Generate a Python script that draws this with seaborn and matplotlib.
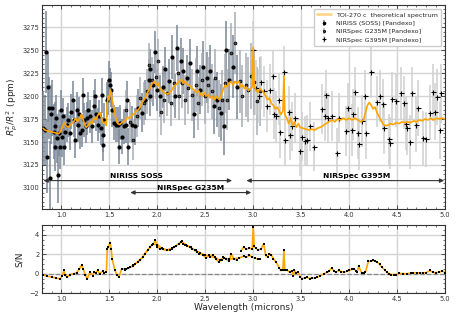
import numpy as np
import pandas as pd
import matplotlib
matplotlib.use("Agg")
import matplotlib.pyplot as plt
from matplotlib.ticker import MultipleLocator
import seaborn as sns

# ---------------- data ----------------
model_wl = [0.81,0.83,0.86,0.90,0.94,0.97,0.99,1.01,1.03,1.05,1.07,1.09,1.11,1.13,1.15,1.17,1.19,1.21,1.22,1.24,
            1.26,1.28,1.30,1.32,1.34,1.36,1.38,1.40,1.42,1.44,1.46,1.47,1.48,1.49,1.50,1.51,1.52,1.53,1.55,1.57,
            1.59,1.61,1.63,1.65,1.67,1.69,1.71,1.73,1.75,1.77,1.79,1.81,1.83,1.85,1.87,1.89,1.91,1.93,1.95,1.97,
            1.99,2.01,2.03,2.05,2.07,2.09,2.11,2.13,2.15,2.17,2.19,2.21,2.23,2.25,2.27,2.29,2.31,2.33,2.35,2.37,
            2.39,2.41,2.43,2.45,2.47,2.49,2.51,2.53,2.55,2.57,2.59,2.61,2.63,2.65,2.67,2.69,2.71,2.73,2.75,2.77,
            2.79,2.81,2.83,2.85,2.87,2.89,2.91,2.93,2.95,2.97,2.99,3.00,3.01,3.03,3.05,3.07,3.09,3.11,3.13,3.15,
            3.17,3.19,3.21,3.23,3.25,3.27,3.29,3.31,3.32,3.33,3.35,3.37,3.39,3.41,3.43,3.45,3.47,3.49,3.52,3.55,
            3.58,3.61,3.64,3.67,3.70,3.73,3.76,3.79,3.82,3.85,3.88,3.91,3.94,3.97,4.00,4.03,4.06,4.09,4.12,4.15,
            4.17,4.19,4.21,4.23,4.25,4.27,4.29,4.31,4.33,4.35,4.37,4.40,4.43,4.46,4.49,4.52,4.55,4.58,4.61,4.64,
            4.67,4.70,4.73,4.76,4.79,4.82,4.85,4.88,4.91,4.94,4.97,5.00]
model_ppm = [3165,3163,3162,3161,3160,3159,3161,3166,3171,3168,3166,3168,3170,3172,3176,3172,3176,3180,3178,3170,
             3166,3168,3172,3170,3176,3174,3179,3182,3176,3170,3172,3168,3192,3200,3196,3207,3204,3196,3186,3175,
             3170,3169,3171,3172,3174,3177,3176,3178,3180,3182,3184,3186,3190,3194,3197,3202,3206,3210,3214,3216,
             3212,3214,3208,3206,3204,3203,3202,3204,3206,3210,3212,3214,3216,3218,3214,3216,3213,3212,3210,3208,
             3206,3204,3206,3202,3200,3204,3200,3202,3198,3200,3196,3200,3198,3196,3202,3208,3212,3210,3214,3216,
             3212,3216,3214,3216,3210,3212,3208,3210,3206,3208,3210,3253,3212,3206,3204,3208,3206,3204,3200,3196,
             3198,3192,3190,3186,3188,3184,3180,3184,3222,3180,3176,3170,3176,3168,3172,3166,3170,3166,3165,3164,
             3163,3164,3163,3165,3166,3168,3170,3172,3174,3172,3175,3174,3176,3174,3176,3174,3176,3174,3172,3174,
             3182,3190,3193,3190,3186,3188,3182,3178,3174,3170,3168,3168,3170,3169,3171,3170,3172,3171,3172,3171,
             3173,3172,3174,3173,3175,3174,3176,3174,3176,3175,3176,3175]

niriss_wl = [0.81,0.83,0.84,0.85,0.86,0.87,0.88,0.89,0.90,0.92,
             0.93,0.94,0.95,0.955,0.97,0.975,0.99,1.00,1.01,1.02,
             1.03,1.04,1.06,1.07,1.09,1.10,1.12,1.13,1.14,1.16,
             1.17,1.19,1.20,1.22,1.23,1.24,1.26,1.27,1.28,1.30,
             1.32,1.34,1.35,1.36,1.38,1.39,1.41,1.42,1.43,1.44,
             1.45,1.48,1.49,1.50,1.51,1.52,1.53,1.55,1.57,1.59,
             1.60,1.61,1.63,1.65,1.67,1.69,1.70,1.74,1.77,1.80,
             1.84,1.875,1.91,1.92,1.93,1.96,1.98,2.00,2.03,2.06,
             2.08,2.12,2.15,2.19,2.21,2.25,2.27,2.31,2.34,2.38,
             2.41,2.45,2.48,2.52,2.55,2.59,2.62,2.66,2.70,2.72,
             2.75,2.79,2.83]
niriss_ppm = [3165,3163,3248,3134,3210,3187,3111,3180,3187,3161,
              3145,3167,3176,3154,3114,3160,3145,3185,3156,3178,
              3145,3161,3169,3174,3160,3183,3196,3174,3152,3185,
              3169,3180,3160,3163,3201,3174,3167,3176,3185,3178,
              3167,3189,3200,3180,3169,3178,3165,3201,3147,3158,
              3174,3196,3198,3218,3212,3207,3185,3171,3169,3169,
              3145,3171,3156,3167,3169,3196,3145,3169,3167,3187,
              3182,3196,3218,3200,3229,3212,3248,3207,3200,3210,
              3229,3216,3243,3200,3252,3238,3227,3220,3236,3180,
              3227,3207,3232,3220,3227,3189,3196,3182,3167,3250,
              3218,3232,3210]
niriss_err = [40,38,45,40,38,34,40,32,30,30,
              27,27,25,27,30,25,24,22,22,20,
              20,20,19,19,19,19,20,19,19,19,
              19,19,18,18,19,18,18,18,19,18,
              18,18,19,18,18,18,18,19,18,19,
              18,19,19,20,19,19,19,19,19,19,
              19,19,19,19,20,20,20,20,20,21,
              21,22,22,22,22,23,23,23,23,23,
              24,24,24,24,25,25,25,25,26,26,
              27,27,28,28,29,30,30,31,31,32,
              33,34,35]

g235_wl = [1.68,1.72,1.75,1.79,1.82,1.86,1.89,1.91,1.945,1.99,
           2.01,2.04,2.07,2.10,2.14,2.17,2.22,2.23,2.26,2.29,
           2.32,2.36,2.40,2.43,2.47,2.50,2.53,2.57,2.60,2.64,
           2.67,2.71,2.73,2.77,2.81,2.86,2.88,2.92,2.95,2.98,
           3.01,3.04,3.07]
g235_ppm = [3185,3172,3152,3178,3198,3192,3205,3234,3218,3221,
            3238,3183,3196,3203,3192,3214,3225,3200,3214,3196,
            3209,3201,3212,3192,3218,3200,3212,3205,3220,3187,
            3196,3214,3196,3247,3258,3216,3200,3212,3207,3222,
            3215,3195,3205]
g235_err = [22,22,22,23,23,23,24,24,24,24,
            24,25,25,25,25,26,26,26,27,27,
            28,28,29,29,29,30,30,30,31,31,
            32,32,33,33,34,34,34,35,35,36,
            36,37,38]

g395_wl = [3.00,3.03,3.06,3.08,3.11,3.14,3.18,3.21,3.22,3.24,
           3.27,3.28,3.32,3.33,3.37,3.38,3.40,3.44,3.49,3.51,
           3.54,3.56,3.59,3.63,3.72,3.75,3.76,3.78,3.82,3.87,
           3.89,3.97,3.99,4.03,4.04,4.06,4.09,4.10,4.13,4.17,
           4.18,4.23,4.29,4.32,4.35,4.36,4.42,4.43,4.45,4.49,
           4.54,4.57,4.59,4.60,4.63,4.65,4.70,4.72,4.77,4.80,
           4.84,4.87,4.89,4.92,4.95,4.96]
g395_ppm = [3250,3209,3200,3215,3205,3189,3207,3222,3181,3178,
            3196,3161,3226,3152,3183,3158,3167,3176,3140,3156,
            3151,3152,3167,3145,3186,3178,3201,3176,3178,3138,
            3176,3162,3187,3163,3180,3204,3160,3148,3173,3200,
            3160,3226,3194,3200,3191,3165,3153,3149,3197,3195,
            3203,3193,3170,3165,3150,3203,3169,3187,3154,3153,
            3182,3204,3183,3199,3163,3203]
g395_err = [32,30,29,29,28,28,28,28,28,28,
            28,28,28,28,28,28,27,27,27,27,
            27,27,27,27,27,27,27,27,27,27,
            27,27,27,28,28,28,28,28,28,28,
            28,28,28,28,28,28,28,28,29,29,
            29,29,29,29,29,29,30,30,30,30,
            30,31,31,31,31,32]

sn1_wl = [0.81,0.85,0.90,0.95,0.99,1.01,1.03,1.04,1.06,1.09,
          1.13,1.16,1.19,1.215,1.23,1.25,1.27,1.30,1.33,1.34,
          1.36,1.38,1.40,1.43,1.45,1.47,1.48,1.49,1.51,1.52,
          1.53,1.56,1.58,1.60,1.63,1.66,1.68,1.72,1.75,1.77,
          1.80,1.82,1.85,1.87,1.90,1.93,1.96,1.98,2.00,2.03,
          2.06,2.10,2.13,2.15,2.18,2.20,2.23,2.26,2.27,2.29,
          2.31,2.34,2.36,2.39,2.41,2.44,2.48,2.51,2.54,2.58,
          2.61,2.64,2.67,2.69,2.72,2.75,2.77,2.80,2.83]
sn1 = [-0.12,-0.25,-0.35,-0.45,-0.54,-0.2,0.35,-0.1,-0.36,-0.1,
       0.0,0.1,0.5,0.92,0.45,-0.1,-0.54,0.15,-0.2,0.15,
       0.1,0.33,0.0,0.25,0.1,0.15,2.58,2.75,3.2,2.58,
       1.54,0.33,-0.1,-0.36,0.5,0.45,0.5,0.66,0.8,1.02,
       1.2,1.37,1.7,2.05,2.4,2.75,3.1,3.45,2.75,2.58,
       2.5,2.4,2.45,2.58,2.75,2.9,3.1,3.35,3.1,3.0,
       2.9,2.75,2.58,2.4,2.23,2.05,1.9,1.6,1.9,1.9,
       1.5,1.2,1.4,1.7,1.5,1.3,2.05,1.5,1.4]

sn2_wl = [1.66,1.70,1.75,1.80,1.85,1.90,1.95,2.00,2.05,2.10,
          2.15,2.20,2.25,2.30,2.35,2.40,2.45,2.50,2.55,2.60,
          2.65,2.70,2.75,2.80,2.85,2.90,2.93,2.96,2.99,3.02,3.05,3.07]
sn2 = [0.4,0.6,0.85,1.25,1.75,2.45,3.0,3.0,2.6,2.45,
       2.6,2.9,3.3,3.0,2.7,2.4,2.15,1.9,1.75,1.7,
       1.4,1.6,1.5,1.55,1.6,1.8,1.7,1.9,1.7,1.6,1.5,1.5]

sn3_wl = [2.87,2.90,2.93,2.96,2.99,3.00,3.01,3.03,3.05,3.08,
          3.11,3.13,3.15,3.17,3.19,3.21,3.24,3.27,3.29,3.31,
          3.32,3.33,3.35,3.38,3.40,3.42,3.43,3.45,3.47,3.49,
          3.51,3.54,3.56,3.59,3.61,3.64,3.67,3.70,3.74,3.77,
          3.79,3.82,3.84,3.86,3.89,3.92,3.95,3.98,4.00,4.03,
          4.05,4.07,4.08,4.10,4.13,4.15,4.17,4.20,4.23,4.25,
          4.27,4.29,4.32,4.34,4.37,4.39,4.42,4.44,4.47,4.49,
          4.52,4.56,4.60,4.64,4.67,4.71,4.74,4.77,4.80,4.84,
          4.87,4.90,4.94,4.97,5.00]
sn3 = [2.3,2.75,2.5,2.65,2.5,4.83,2.8,2.6,2.45,2.5,
       3.1,1.9,1.7,2.05,1.9,1.54,1.2,0.6,0.33,0.4,
       2.4,0.33,0.4,0.15,0.3,-0.2,0.33,0.1,0.15,-0.3,
       -0.54,-0.4,-0.36,-0.5,-0.47,-0.45,-0.36,-0.2,0.0,0.15,
       0.25,0.6,0.3,0.15,0.33,0.2,0.15,0.25,0.33,0.45,
       0.5,0.3,0.15,0.75,0.08,0.1,0.15,1.27,1.3,1.37,
       1.3,1.2,0.95,0.68,0.4,0.15,0.0,-0.1,-0.1,-0.1,
       0.05,0.0,0.0,0.05,0.1,0.08,0.05,0.1,0.08,0.33,
       0.15,0.1,0.15,0.3,0.08]

x_ticks = [1.0, 1.5, 2.0, 2.5, 3.0, 3.5, 4.0, 4.5, 5.0]
top_yticks = [3100, 3125, 3150, 3175, 3200, 3225, 3250, 3275]
bot_yticks = [-2, 0, 2, 4]

# ---------------- style ----------------
sns.set_style("ticks")
plt.rcParams["font.family"] = ["DejaVu Sans"]

fig = plt.figure(figsize=(4.57, 3.2), dpi=100)
gs = fig.add_gridspec(2, 1, height_ratios=[3, 1], left=0.092, right=0.974,
                      top=0.984, bottom=0.084, hspace=0.118)
ax = fig.add_subplot(gs[0])
ax2 = fig.add_subplot(gs[1])

ORANGE = "#FFA500"

# model
sns.lineplot(x=model_wl, y=model_ppm, ax=ax, color=ORANGE, lw=1.2, estimator=None,
             sort=False, zorder=4, label="TOI-270 c  theoretical spectrum")

# data
ax.errorbar(niriss_wl, niriss_ppm, yerr=niriss_err, fmt="o", ms=2.0, color="black",
            ecolor="#7a8798", elinewidth=1.1, zorder=3,
            label="NIRISS (SOSS) [Pandexo]")
ax.errorbar(g235_wl, g235_ppm, yerr=g235_err, fmt="o", ms=2.0, mfc="#555555", mec="black",
            mew=0.6, color="black", ecolor="#a8acb2", elinewidth=1.1, zorder=3,
            label="NIRSpec G235M [Pandexo]")
ax.errorbar(g395_wl, g395_ppm, yerr=g395_err, fmt="+", ms=3.6, mew=0.8, color="black",
            ecolor="#d0d0d0", elinewidth=1.1, zorder=3,
            label="NIRSpec G395M [Pandexo]")

# instrument ranges
akw = dict(arrowstyle="<|-|>,head_length=0.25,head_width=0.12", color="#333333", lw=0.8,
           shrinkA=0, shrinkB=0)
ax.annotate("", xy=(0.815, 3108), xytext=(2.78, 3108), arrowprops=akw, zorder=5)
ax.annotate("", xy=(1.72, 3095), xytext=(2.98, 3095), arrowprops=akw, zorder=5)
ax.annotate("", xy=(2.93, 3108), xytext=(4.99, 3108), arrowprops=akw, zorder=5)
tkw = dict(fontsize=5.4, fontweight="bold", ha="center", va="bottom", color="black", zorder=6)
ax.text(1.78, 3109.5, "NIRISS SOSS", **tkw)
ax.text(2.35, 3096.5, "NIRSpec G235M", **tkw)
ax.text(4.08, 3109.5, "NIRSpec G395M", **tkw)

ax.set_xlim(0.8, 5.0)
ax.set_ylim(3077, 3299)
ax.set_xticks(x_ticks)
ax.set_yticks(top_yticks)
ax.xaxis.set_minor_locator(MultipleLocator(0.1))
ax.yaxis.set_minor_locator(MultipleLocator(5))
ax.set_ylabel(r"$R_p^2/R_\star^2$ (ppm)", fontsize=6.5, labelpad=2)
ax.set_xlabel("")

handles, labels = ax.get_legend_handles_labels()
leg = ax.legend(handles, labels, loc="upper right", fontsize=4.6, frameon=True,
                handlelength=2.2, borderpad=0.5, labelspacing=0.45, borderaxespad=0.6,
                fancybox=False, edgecolor="#cccccc", framealpha=1, markerscale=0.8)
leg.get_lines()[0].set_alpha(0.45)
leg.get_lines()[0].set_linewidth(2.0)

# S/N panel
ax2.axhline(0, color="#888888", ls="--", lw=0.9, zorder=1)
for wl, sn in [(sn1_wl, sn1), (sn2_wl, sn2), (sn3_wl, sn3)]:
    sns.lineplot(x=wl, y=sn, ax=ax2, color=ORANGE, lw=1.2, estimator=None, sort=False, zorder=3)
    sns.scatterplot(x=wl, y=sn, ax=ax2, color="black", marker="s", s=4.5, linewidth=0, zorder=4)
ax2.set_xlim(0.8, 5.0)
ax2.set_ylim(-2, 5)
ax2.set_xticks(x_ticks)
ax2.set_yticks(bot_yticks)
ax2.xaxis.set_minor_locator(MultipleLocator(0.1))
ax2.yaxis.set_minor_locator(MultipleLocator(0.5))
ax2.set_ylabel("S/N", fontsize=6.5, labelpad=4)
ax2.set_xlabel("Wavelength (microns)", fontsize=6.5, labelpad=1)

for a in (ax, ax2):
    a.grid(True, which="major", color="#d4d4d4", lw=1.0, zorder=0)
    a.set_axisbelow(True)
    a.tick_params(which="both", direction="in", top=True, right=True, labelsize=4.8,
                  colors="#333333", pad=2)
    a.tick_params(which="major", length=3, width=0.6)
    a.tick_params(which="minor", length=1.6, width=0.5)
    for s in a.spines.values():
        s.set_color("#333333")
        s.set_linewidth(0.8)

fig.savefig("out.png", dpi=100)
